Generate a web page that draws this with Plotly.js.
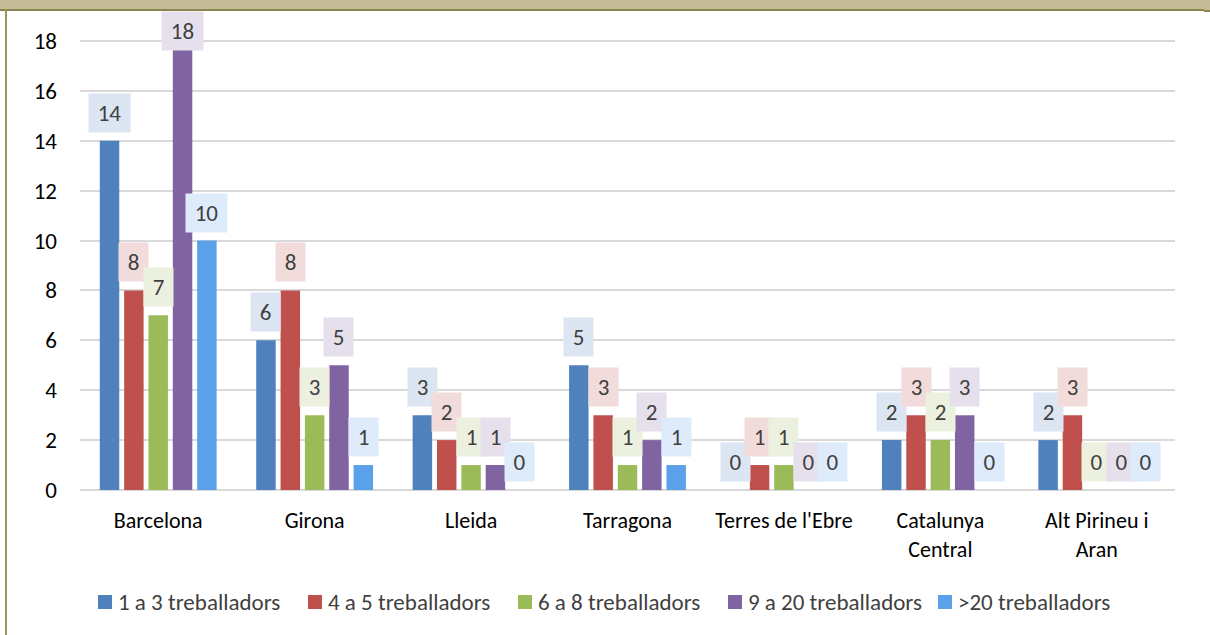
<!DOCTYPE html>
<html>
<head>
<meta charset="utf-8">
<script src="https://cdn.plot.ly/plotly-3.0.1.min.js"></script>
<style>
  html, body { margin: 0; padding: 0; background: #fff; }
  #wrap { position: relative; width: 1210px; height: 635px; overflow: hidden; }
  #chart { position: absolute; left: 0; top: 0; width: 1210px; height: 635px; }
  #topband { position: absolute; left: 0; top: 0; width: 1204px; height: 9px; background: #C4BD97; border-bottom: 2px solid #8C8450; z-index: 2; }
  #topband2 { position: absolute; left: 1204px; top: 0; width: 6px; height: 10px; background: #C4BD97; border-bottom: 2px solid #8C8450; z-index: 2; }
  #leftline { position: absolute; left: 5px; top: 9px; width: 2px; height: 626px; background: #9C9457; z-index: 2; }
</style>
</head>
<body>
<div id="wrap">
  <div id="chart"></div>
  <div id="topband"></div>
  <div id="topband2"></div>
  <div id="leftline"></div>
</div>
<script>
const categories = ["Barcelona", "Girona", "Lleida", "Tarragona", "Terres de l'Ebre", "Catalunya<br>Central", "Alt Pirineu i<br>Aran"];
const seriesNames = ["1 a 3 treballadors", "4 a 5 treballadors", "6 a 8 treballadors", "9 a 20 treballadors", ">20 treballadors"];
const s1 = [14, 6, 3, 5, 0, 2, 2];
const s2 = [8, 8, 2, 3, 1, 3, 3];
const s3 = [7, 3, 1, 1, 1, 2, 0];
const s4 = [18, 5, 1, 2, 0, 3, 0];
const s5 = [10, 1, 0, 1, 0, 0, 0];
const yTicks = [0, 2, 4, 6, 8, 10, 12, 14, 16, 18];

const series = [s1, s2, s3, s4, s5];
const colors = ["#4F81BD", "#C0504D", "#9BBB59", "#8064A2", "#5BA1EA"];
const labelBg = ["#DCE6F2", "#F2DCDB", "#EBF1DE", "#E5E0EC", "#DDEBFA"];
const FONT = "Carlito, Lato, 'Liberation Sans', sans-serif";
const FS = 23;

const M = { l: 80, r: 35, t: 11, b: 145 };
const W = 1210, H = 635;
const plotW = W - M.l - M.r, plotH = H - M.t - M.b;
const px2x = px => (px - M.l) / plotW;
const py2y = py => (H - M.b - py) / plotH;

const bargap = 0.222;
const bargroupgap = 0.2;
const ymax = 19.2;
const pxPerUnit = plotH / ymax;
const xIdx = categories.map((c, i) => i);

const traces = series.map((vals, j) => ({
  type: 'bar',
  name: seriesNames[j],
  x: xIdx,
  y: vals,
  marker: { color: colors[j], line: { width: 0 } },
  hoverinfo: 'skip',
  showlegend: false
}));

const n = series.length;
const slot = (1 - bargap) / n;
const annotations = [];
const shapes = [];
series.forEach((vals, j) => {
  vals.forEach((v, i) => {
    const txt = String(v);
    const w = 15 + (txt.length - 1) * 12;
    const boxH = 38, gap = 8;
    const clamp = v * pxPerUnit + gap + boxH > plotH;
    annotations.push({
      xref: 'x', yref: 'y',
      x: i + (j - (n - 1) / 2) * slot,
      y: clamp ? ymax : v,
      yanchor: clamp ? 'top' : 'bottom',
      xanchor: 'center',
      yshift: clamp ? 0 : gap,
      text: txt,
      showarrow: false,
      bgcolor: labelBg[j],
      borderpad: 7,
      width: w,
      height: 24,
      font: { family: FONT, size: FS, color: '#404040' }
    });
  });
});

// custom legend (square key + text), laid out like the reference
const legStart = 98, legStep = 210, legY = 602, keySize = 14;
seriesNames.forEach((name, j) => {
  const left = legStart + j * legStep;
  shapes.push({
    type: 'rect', xref: 'paper', yref: 'paper', layer: 'above',
    x0: px2x(left), x1: px2x(left + keySize),
    y0: py2y(legY + keySize / 2), y1: py2y(legY - keySize / 2),
    fillcolor: colors[j], line: { width: 0 }
  });
  annotations.push({
    xref: 'paper', yref: 'paper',
    x: px2x(left + keySize + 4), y: py2y(legY),
    xanchor: 'left', yanchor: 'middle',
    text: name, showarrow: false,
    font: { family: FONT, size: FS, color: '#404040' }
  });
});

const layout = {
  width: W, height: H,
  margin: M,
  paper_bgcolor: '#ffffff',
  plot_bgcolor: '#ffffff',
  barmode: 'group',
  bargap: bargap,
  bargroupgap: bargroupgap,
  showlegend: false,
  xaxis: {
    tickmode: 'array', tickvals: xIdx, ticktext: categories,
    range: [-0.5, categories.length - 0.5],
    showgrid: false, zeroline: false, showline: false,
    ticks: '', ticklabelstandoff: 15,
    tickfont: { family: FONT, size: 22, color: '#000000' }
  },
  yaxis: {
    range: [0, ymax],
    tickmode: 'array', tickvals: yTicks,
    showgrid: true, gridcolor: '#D9D9D9', gridwidth: 2,
    zeroline: true, zerolinecolor: '#D9D9D9', zerolinewidth: 2,
    showline: false, ticks: '', ticklabelstandoff: 22,
    tickfont: { family: FONT, size: FS, color: '#000000' }
  },
  annotations: annotations,
  shapes: shapes,
  font: { family: FONT }
};

Plotly.newPlot('chart', traces, layout, { displayModeBar: false, staticPlot: true });
</script>
</body>
</html>
